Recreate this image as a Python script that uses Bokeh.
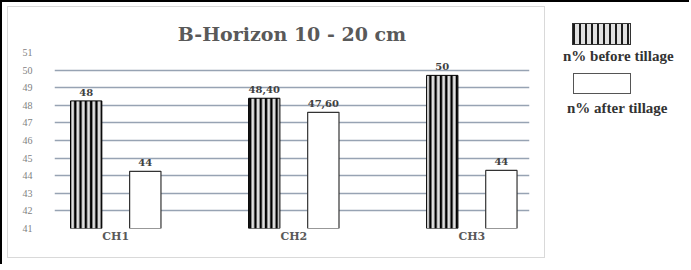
from bokeh.plotting import figure
from bokeh.models import Range1d, FixedTicker, ColumnDataSource, Div
from bokeh.layouts import row
from bokeh.core.properties import value
from bokeh.embed import file_html
from bokeh.resources import INLINE

# ---- data ----
categories = ["CH1", "CH2", "CH3"]
before_vals = [48.25, 48.4, 49.7]
after_vals = [44.25, 47.6, 44.3]
before_labels = ["48", "48,40", "50"]
after_labels = ["44", "47,60", "44"]
y_ticks = [41, 42, 43, 44, 45, 46, 47, 48, 49, 50, 51]
series_names = ["n% before tillage", "n% after tillage"]
title_text = "B-Horizon 10 - 20 cm"

SERIF = "Liberation Serif"
WIDE = "DejaVu Serif"
idx = list(range(len(categories)))
off = 0.166
bw = 0.176

src_b = ColumnDataSource(dict(x=[i - off for i in idx], top=before_vals, lab=before_labels))
src_a = ColumnDataSource(dict(x=[i + off for i in idx], top=after_vals, lab=after_labels))

p = figure(width=538, height=252, output_backend="svg", toolbar_location=None,
           x_range=Range1d(-0.344, 2.324), y_range=Range1d(41, 51),
           min_border_left=46, min_border_right=17, min_border_top=45, min_border_bottom=31,
           title=title_text)
p.margin = (4, 0, 0, 5)
p.styles = {"border": "1px solid #d9d9d9"}
p.background_fill_color = "white"
p.border_fill_color = "white"
p.outline_line_color = None

p.title.align = "center"
p.title.text_font = WIDE
p.title.text_font_size = "19px"
p.title.text_font_style = "bold"
p.title.text_color = "#595959"
p.title.standoff = 16

p.vbar(x="x", top="top", bottom=41, width=bw, source=src_b,
       fill_color="#e0e0e0", line_color="black", line_width=1,
       hatch_pattern="vertical_line", hatch_scale=5.3, hatch_weight=2.4, hatch_color="black")
p.vbar(x="x", top="top", bottom=41, width=bw, source=src_a,
       fill_color="white", line_color="#333333", line_width=1.2)

for s in (src_b, src_a):
    p.text(x="x", y="top", text="lab", source=s, text_align="center", text_baseline="bottom",
           y_offset=-5, text_font=value(WIDE), text_font_size="10px", text_font_style="bold",
           text_color="#404040")

p.yaxis.ticker = FixedTicker(ticks=y_ticks)
p.xaxis.ticker = FixedTicker(ticks=idx)
p.xaxis.major_label_overrides = {i: c for i, c in zip(idx, categories)}
for ax in (p.xaxis, p.yaxis):
    ax.axis_line_color = None
    ax.major_tick_line_color = None
    ax.minor_tick_line_color = None
    ax.major_tick_out = 0
    ax.major_label_text_font = SERIF
    ax.major_label_text_color = "#7f7f7f"
p.yaxis.major_label_text_font_size = "10px"
p.yaxis.major_label_standoff = 22
p.xaxis.major_label_text_font = WIDE
p.xaxis.major_label_text_font_size = "11px"
p.xaxis.major_label_text_font_style = "bold"
p.xaxis.major_label_text_color = "#595959"
p.xaxis.major_label_standoff = 1

p.xgrid.grid_line_color = None
p.ygrid.grid_line_color = "#97a3b3"
p.ygrid.grid_line_width = 1.3

# ---- legend panel (outside the chart box) ----
stripes = "repeating-linear-gradient(to right, #1a1a1a 0px, #1a1a1a 2px, #e0e0e0 2px, #e0e0e0 6px)"
txt = "position:absolute;white-space:nowrap;font-family:'Liberation Serif';font-weight:bold;font-size:15px;color:#333;line-height:16px;"
legend_html = f"""
<div style="position:relative;width:134px;height:252px;overflow:hidden;">
  <div style="position:absolute;left:22px;top:16px;width:59px;height:22px;border:1px solid #333;background:{stripes};"></div>
  <div style="{txt}left:13px;top:41px;">{series_names[0]}</div>
  <div style="position:absolute;left:23px;top:66px;width:58px;height:21px;border:1px solid #555;background:white;"></div>
  <div style="{txt}left:17px;top:93px;">{series_names[1]}</div>
</div>
"""
q = Div(text=legend_html, width=134, height=252)

layout = row(p, q)
layout.styles = {"border-left": "2px solid black", "border-top": "2px solid black"}

open("out.html", "w").write(file_html(layout, INLINE))
